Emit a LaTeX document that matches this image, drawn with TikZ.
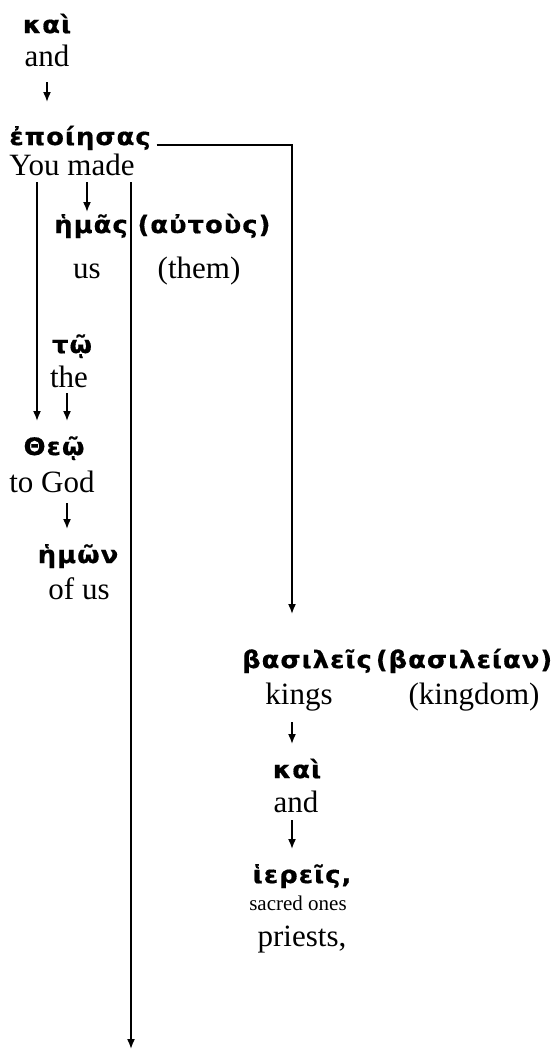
\documentclass[tikz,border=0pt]{standalone}
\usepackage{fontspec}
\setmainfont{Liberation Serif}
\newfontfamily\grk{DejaVu Sans}[FakeStretch=1.08,LetterSpace=4,FakeBold=0.6]
\usetikzlibrary{arrows.meta}

\tikzset{
  grw/.style={anchor=base, inner sep=0pt, outer sep=6pt, text height=28pt, text depth=5pt,
    font=\grk\bfseries\fontsize{24}{27}\selectfont},
  eng/.style={anchor=base, inner sep=0pt, outer sep=4pt, text height=21pt, text depth=7pt,
    font=\fontsize{31}{34}\selectfont},
  smalleng/.style={anchor=base, inner sep=0pt, font=\fontsize{21}{23}\selectfont},
  link/.style={line width=1.6pt, -{Latex[length=10pt,width=8pt]}}
}

\begin{document}
\begin{tikzpicture}[x=1pt,y=-1pt]
    \useasboundingbox (0,0) rectangle (559,1055);

    % left column
    \node[grw] (kai1) at (47,33) {καὶ};
    \node[eng, text depth=12pt] (and1) at (47,66) {and};
    \node[grw, text height=37pt] (epo) at (80,145) {ἐποίησας};
    \node[eng, text depth=3pt] (made) at (72,175) {You made};
    \node[grw, text height=15pt] (hmas) at (91,233) {ἡμᾶς};
    \node[grw] (autous) at (204,233) {(αὐτοὺς)};
    \node[eng] (us) at (87,278) {us};
    \node[eng] (them) at (199,278) {(them)};
    \node[grw] (tw) at (72,353) {τῷ};
    \node[eng, text depth=2pt] (the) at (69,387) {the};
    \node[grw] (theo) at (54,455) {Θεῷ};
    \node[eng] (god) at (52,492) {to God};
    \node[grw] (hmwn) at (78,563) {ἡμῶν};
    \node[eng] (ofus) at (79,599) {of us};

    % right column
    \node[grw] (bas) at (307,668) {βασιλεῖς};
    \node[grw] (basil) at (464,668) {(βασιλείαν)};
    \node[eng, text depth=14pt] (kings) at (299,704) {kings};
    \node[eng] (kingdom) at (474,704) {(kingdom)};
    \node[grw] (kai2) at (297,778) {καὶ};
    \node[eng, text depth=4pt] (and2) at (296,812) {and};
    \node[grw] (hier) at (302,883) {ἱερεῖς,};
    \node[smalleng] (sacred) at (298,910) {sacred ones};
    \node[eng] (priests) at (302,946) {priests,};

    \coordinate (lx) at (37,0);
    \coordinate (mx) at (131,0);
    \coordinate (rx) at (292,0);
    \coordinate (tx) at (67,0);
    \coordinate (bastop) at (292,614);
    \coordinate (bottom) at (131,1049);

    % connectors
    \draw[link] (and1.south) -- (and1 |- epo.north);
    \draw[link] (epo.base east) -| (bastop);
    \draw[link] (made.south -| lx) -- (lx |- theo.north);
    \draw[link] (made.south -| us) -- (us |- hmas.north);
    \draw[link] (made.south -| mx) -- (bottom);
    \draw[link] (the.south -| tx) -- (tx |- theo.north);
    \draw[link] (god.south -| tx) -- (tx |- hmwn.north);
    \draw[link] (kings.south -| rx) -- (rx |- kai2.north);
    \draw[link] (and2.south -| rx) -- (rx |- hier.north);

\end{tikzpicture}
\end{document}
